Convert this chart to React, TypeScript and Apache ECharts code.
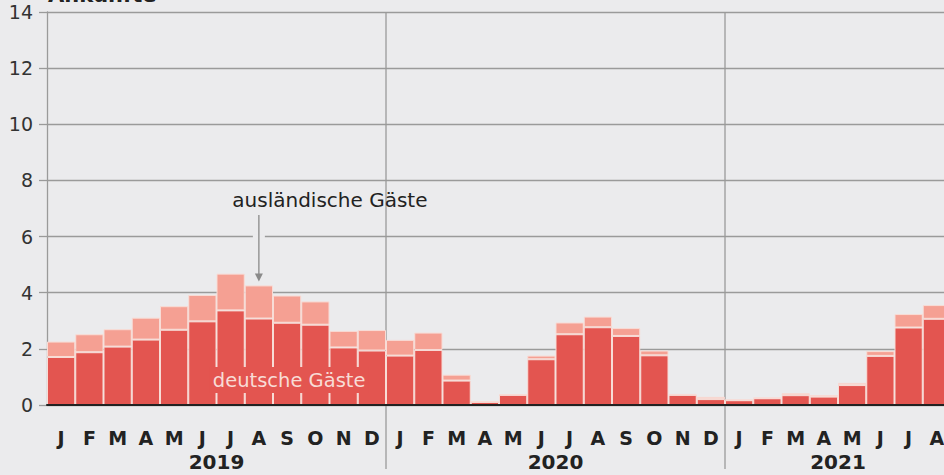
import React, { useEffect, useRef } from "react";
import * as echarts from "echarts";

const months = ["J","F","M","A","M","J","J","A","S","O","N","D","J","F","M","A","M","J","J","A","S","O","N","D","J","F","M","A","M","J","J","A"];
const years = ["2019", "2020", "2021"];
const yearStart = [0, 12, 24];
const yearEnd = [11, 23, 31];
const german = [1.71,1.88,2.08,2.33,2.68,2.98,3.37,3.08,2.93,2.86,2.05,1.94,
  1.76,1.96,0.87,0.11,0.36,1.63,2.52,2.77,2.46,1.77,0.36,0.21,
  0.17,0.24,0.35,0.30,0.71,1.75,2.76,3.07];
const foreign = [0.55,0.64,0.62,0.78,0.84,0.94,1.31,1.18,0.97,0.83,0.59,0.73,
  0.56,0.62,0.21,0.02,0.02,0.13,0.42,0.38,0.28,0.17,0.03,0.08,
  0.02,0.02,0.07,0.05,0.08,0.17,0.48,0.49];
const yTicks = [0, 2, 4, 6, 8, 10, 12, 14];

const BG = "#ebebed";
const DARK = "#e35550";
const PALE = "#f5a093";
const FONT = "'DejaVu Sans', 'Liberation Sans', Arial, sans-serif";

export default function App() {
  const ref = useRef<HTMLDivElement>(null);
  useEffect(() => {
    const chart = echarts.init(ref.current!, undefined, { renderer: "svg" });
    const cats = months.map((m, i) => m + "_" + i);
    chart.setOption({
      animation: false,
      backgroundColor: BG,
      grid: { left: 47, top: 12, right: -7, bottom: 70, containLabel: false, outerBoundsMode: "none" },
      xAxis: {
        type: "category",
        data: cats,
        axisLine: { lineStyle: { color: "#222", width: 2 } },
        axisTick: { show: false },
        axisLabel: {
          formatter: (v: string) => v.split("_")[0],
          color: "#222",
          fontFamily: FONT,
          fontWeight: "bold",
          fontSize: 19,
          margin: 23,
          interval: 0,
          hideOverlap: false,
        },
        z: 5,
      },
      yAxis: {
        type: "value",
        min: yTicks[0],
        max: yTicks[yTicks.length - 1],
        interval: 2,
        axisLine: { show: true, lineStyle: { color: "#9a9a9a", width: 1.3 } },
        axisTick: { show: true, length: 8, lineStyle: { color: "#9a9a9a", width: 1.3 } },
        splitLine: { lineStyle: { color: "#9a9a9a", width: 1.3 } },
        axisLabel: { color: "#333", fontFamily: FONT, fontSize: 19, margin: 14 },
      },
      series: [
        {
          type: "bar",
          stack: "a",
          data: german,
          barCategoryGap: "0%",
          itemStyle: { color: DARK, borderColor: "#f8dcd6", borderWidth: 1 },
        },
        {
          type: "bar",
          stack: "a",
          data: foreign,
          barCategoryGap: "0%",
          itemStyle: { color: PALE, borderColor: "#f8dcd6", borderWidth: 1 },
        },
      ],
    });

    const px = (i: number, v: number) => chart.convertToPixel({ gridIndex: 0 }, [i, v]) as number[];
    const step = px(1, 0)[0] - px(0, 0)[0];
    const graphics: any[] = [];
    years.forEach((y, k) => {
      const cx = (px(yearStart[k], 0)[0] + px(yearEnd[k], 0)[0]) / 2;
      graphics.push({
        type: "text",
        x: cx,
        y: 462,
        style: { text: y, fill: "#222", font: `bold 20px ${FONT}`, align: "center", verticalAlign: "middle" },
      });
      if (k > 0) {
        const sx = px(yearStart[k], 0)[0] - step / 2;
        graphics.push({
          type: "line",
          shape: { x1: sx, y1: 12, x2: sx, y2: 469 },
          style: { stroke: "#9a9a9a", lineWidth: 1.3 },
          z: 0,
        });
      }
    });
    graphics.push({
      type: "text",
      x: 48,
      y: -16,
      style: { text: "Ankünfte", fill: "#222", font: `bold 21px ${FONT}` },
    });
    const ax = px(7, 0)[0];
    const aTop = px(7, german[7] + foreign[7])[1];
    graphics.push({
      type: "rect",
      shape: { x: ax - 6, y: px(0, 6)[1] - 2, width: 12, height: 4 },
      style: { fill: BG },
      z: 10,
    });
    graphics.push({
      type: "line",
      shape: { x1: ax, y1: 215, x2: ax, y2: aTop - 10 },
      style: { stroke: "#8a8a8a", lineWidth: 1.3 },
      z: 11,
    });
    graphics.push({
      type: "polygon",
      shape: { points: [[ax - 4, aTop - 12], [ax + 4, aTop - 12], [ax, aTop - 4]] },
      style: { fill: "#8a8a8a" },
      z: 11,
    });
    graphics.push({
      type: "text",
      x: ax + 71,
      y: 200,
      style: { text: "ausländische Gäste", fill: "#222", font: `20px ${FONT}`, align: "center", verticalAlign: "middle" },
      z: 11,
    });
    graphics.push({
      type: "text",
      x: px(8, 0)[0] + 2,
      y: 380,
      style: {
        text: "deutsche Gäste",
        fill: "#f8dcd6",
        font: `19.5px ${FONT}`,
        align: "center",
        verticalAlign: "middle",
        backgroundColor: DARK,
        padding: [3, 3],
      },
      z: 11,
    });
    chart.setOption({ graphic: graphics });
    return () => chart.dispose();
  }, []);
  return <div ref={ref} style={{ width: 944, height: 475, position: "absolute", left: 0, top: 0 }} />;
}
